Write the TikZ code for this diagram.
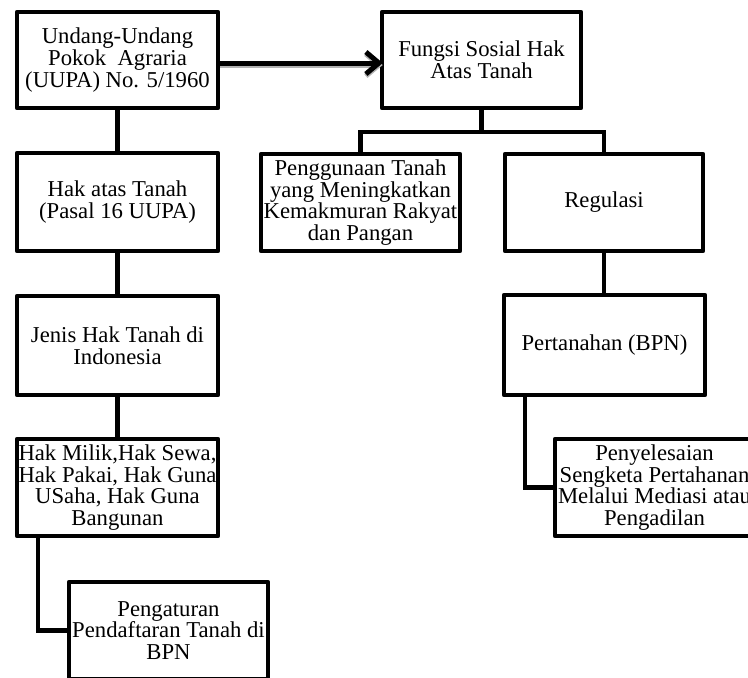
\documentclass[tikz,border=0pt]{standalone}
\usepackage{fontspec}
\setmainfont{Liberation Serif}
\usetikzlibrary{arrows.meta}
\newcommand{\bxfont}{\fontsize{22.7}{21.7}\selectfont}
\begin{document}
\begin{tikzpicture}[x=1pt,y=-1pt,
  bx/.style={draw, line width=4.5pt, line join=round, minimum width=200pt,
    minimum height=97pt, align=center, inner sep=0pt, font=\bxfont},
  link/.style={line width=4.5pt},
  arr/.style={line width=5pt, -{Straight Barb[length=13pt,width=22pt]}}]
\useasboundingbox (0,0) rectangle (748,678);
\clip (0,0) rectangle (748,678);
\fill[white] (0,0) rectangle (748,678);
% left column
\node[bx, minimum width=201pt, minimum height=96pt] (B1) at (117.5,60) {Undang-Undang\\Pokok\ \ Agraria\\(UUPA) No. 5/1960};
\node[bx, minimum width=201pt, minimum height=98pt] (B3) at (117.5,202) {Hak atas Tanah\\(Pasal 16 UUPA)};
\node[bx, minimum width=201pt, minimum height=99pt] (B4) at (117.5,345.5) {Jenis Hak Tanah di\\Indonesia};
\node[bx, minimum width=201pt, minimum height=97pt] (B5) at (117.5,487.5) {Hak Milik,Hak Sewa,\\Hak Pakai, Hak Guna\\USaha, Hak Guna\\Bangunan};
\node[bx, minimum width=199pt, minimum height=97pt] (B6) at (168.5,630.5) {Pengaturan\\Pendaftaran Tanah di\\BPN};
% right part
\node[bx, minimum width=199pt, minimum height=96pt] (B2) at (481.5,60) {Fungsi Sosial Hak\\Atas Tanah};
\node[bx, minimum width=199pt, minimum height=97pt] (B7) at (360.5,202.5) {Penggunaan Tanah\\yang Meningkatkan\\Kemakmuran Rakyat\\dan Pangan};
\node[bx, minimum width=198pt, minimum height=97pt] (B8) at (604,202.5) {Regulasi};
\node[bx, minimum width=201pt, minimum height=100pt] (B9) at (604.5,345) {Pertanahan (BPN)};
\node[bx, minimum width=199pt, minimum height=97pt] (B10) at (654.5,487.5) {Penyelesaian\\Sengketa Pertahanan\\Melalui Mediasi atau\\Pengadilan};
% helper coordinates
\coordinate (k1) at (38,630);
\coordinate (k2) at (525,488);
\coordinate (k3) at (481.5,132);
% connectors
\draw[link] (B1.south) -- (B3.north);
\draw[link] (B3.south) -- (B4.north);
\draw[link] (B4.south) -- (B5.north);
\draw[link] (B5.south -| k1) |- (B6.west);
\draw[line width=5pt, black!30, -{Straight Barb[length=13pt,width=22pt]}] ([yshift=-5pt]B1.east) -- ([yshift=-5pt,xshift=3pt]B2.west);
\draw[arr] ([yshift=-3pt]B1.east) -- ([yshift=-3pt,xshift=3pt]B2.west);
\draw[link] (B2.south) -- (k3);
\draw[link] (B7.north) |- (k3) -| (B8.north);
\draw[link] (B8.south) -- (B8.south |- B9.north);
\draw[link] (B9.south -| k2) |- (B10.west);
\end{tikzpicture}
\end{document}
